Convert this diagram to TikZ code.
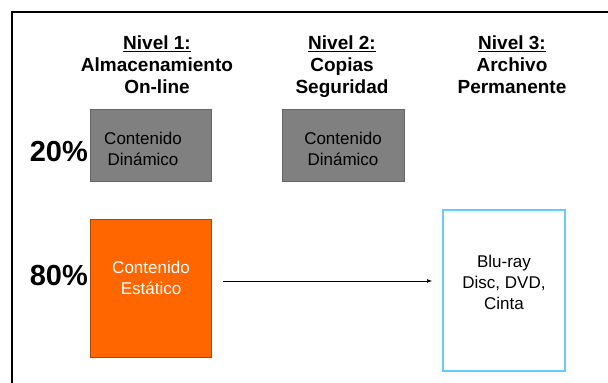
\documentclass[tikz,border=0pt]{standalone}
\usepackage{fontspec}
\setmainfont{Liberation Sans}
\usetikzlibrary{arrows.meta}
\definecolor{boxgray}{HTML}{808080}
\definecolor{orangebox}{HTML}{FF6600}
\definecolor{bluebox}{HTML}{66CCFF}
\begin{document}
\begin{tikzpicture}[x=1pt,y=-1pt,
  head/.style={font=\bfseries\fontsize{19}{22}\selectfont, align=center, anchor=north, inner sep=0pt},
  pct/.style={font=\bfseries\fontsize{29}{30}\selectfont, anchor=base east, inner sep=0pt},
  graybox/.style={draw=black!60, fill=boxgray, line width=0.8pt},
  boxtext/.style={font=\fontsize{17}{21}\selectfont, align=center, inner sep=0pt}
]
\useasboundingbox (0,0) rectangle (608,383);
\fill[white] (0,0) rectangle (608,383);
\draw[line width=2pt] (12,384) -- (12,12) -- (609,12);

\node[head] (h1) at (157,36) {\underline{Nivel 1:}\\Almacenamiento\\On-line};
\node[head] (h2) at (342,36) {\underline{Nivel 2:}\\Copias\\Seguridad};
\node[head] (h3) at (512,36) {\underline{Nivel 3:}\\Archivo\\Permanente};

\draw[graybox] (90,109) rectangle (211,181);
\node[boxtext] (d1) at (143,149) {Contenido\\Dinámico};
\draw[graybox] (282,109) rectangle (404,181);
\node[boxtext] (d2) at (343,149) {Contenido\\Dinámico};

\node[pct] (p20) at (88,161) {20\%};
\node[pct] (p80) at (88,285) {80\%};

\draw[draw=orangebox!70!black, fill=orangebox, line width=0.8pt] (90,219) rectangle (211,357);
\node[boxtext, text=white] (st) at (151,278) {Contenido\\Estático};

\draw[draw=bluebox, line width=2.5pt] (443,210) rectangle (565,371);
\node[boxtext] (bd) at (504,282) {Blu-ray\\Disc, DVD,\\Cinta};

\coordinate (a1) at (223,281);
\coordinate (a2) at (432,281);
\draw[-{Latex[length=5pt,width=4pt]}, line width=0.6pt] (a1) -- (a2);
\end{tikzpicture}
\end{document}
